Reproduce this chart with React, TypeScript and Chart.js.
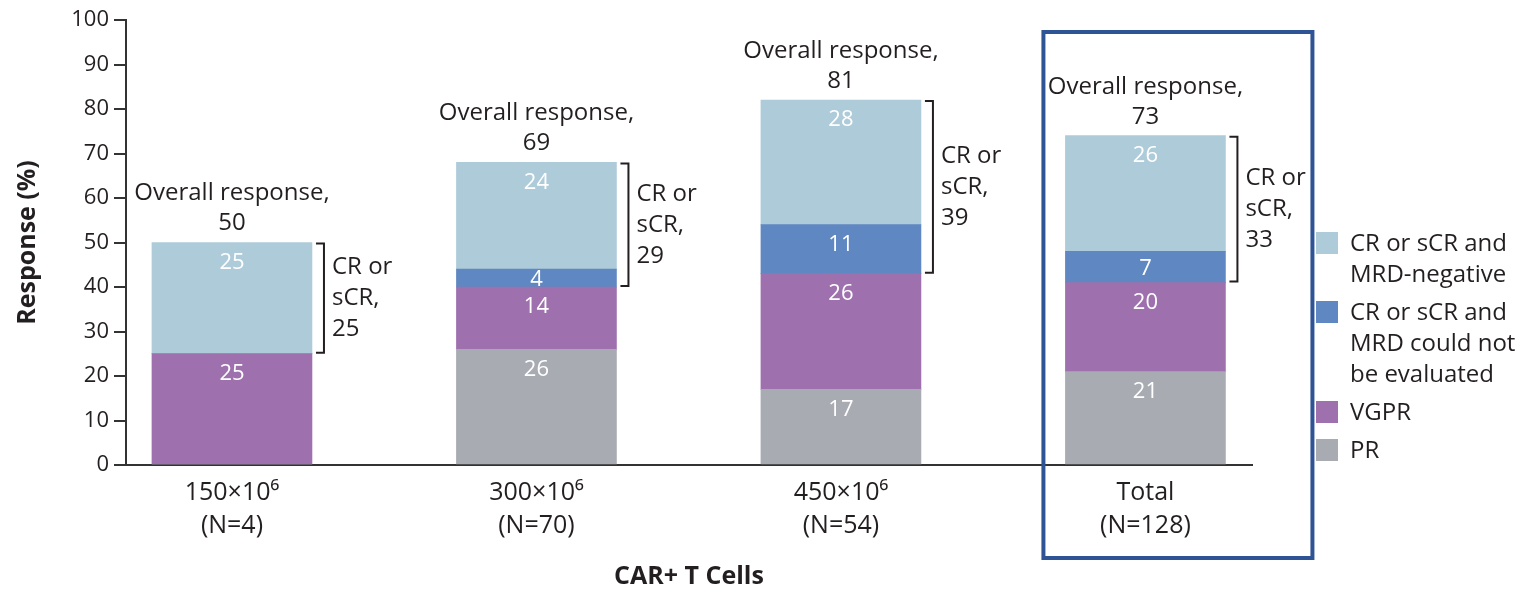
import React, { useEffect, useRef } from "react";
import { Chart, registerables } from "chart.js";

Chart.register(...registerables);

const categories = [["150×10⁶", "(N=4)"], ["300×10⁶", "(N=70)"], ["450×10⁶", "(N=54)"], ["Total", "(N=128)"]];
const xPositions = [0, 1, 2, 3];
const prValues = [0, 26, 17, 21];
const vgprValues = [25, 14, 26, 20];
const crNotEvalValues = [0, 4, 11, 7];
const crMrdNegValues = [25, 24, 28, 26];
const overallResponse = [50, 69, 81, 73];
const crOrScr = [25, 29, 39, 33];
const seriesNames = ["PR", "VGPR", "CR or sCR and MRD could not be evaluated", "CR or sCR and MRD-negative"];
const legendItems = [
  { lines: ["CR or sCR and", "MRD-negative"], idx: 3 },
  { lines: ["CR or sCR and", "MRD could not", "be evaluated"], idx: 2 },
  { lines: ["VGPR"], idx: 1 },
  { lines: ["PR"], idx: 0 },
];
const yTicks = [0, 10, 20, 30, 40, 50, 60, 70, 80, 90, 100];

const COLORS = ["#A8ABB2", "#9E70AE", "#5F87C2", "#AECBDA"];
const FONT = "'Open Sans', 'Noto Sans', sans-serif";
const TEXT = "#231F20";

const annotationPlugin = {
  id: "annotations",
  afterDatasetsDraw(chart: any) {
    const ctx = chart.ctx;
    const xs = chart.scales.x;
    const ys = chart.scales.y;
    const area = chart.chartArea;
    ctx.save();
    // segment labels
    ctx.font = `22px ${FONT}`;
    ctx.fillStyle = "#FFFFFF";
    ctx.textAlign = "center";
    ctx.textBaseline = "middle";
    chart.data.datasets.forEach((ds: any, di: number) => {
      const meta = chart.getDatasetMeta(di);
      meta.data.forEach((el: any, i: number) => {
        const v = ds.data[i].y;
        if (!v) return;
        const top = Math.min(el.y, el.base);
        const bot = Math.max(el.y, el.base);
        const y = Math.min(top + 20, (top + bot) / 2 + 2);
        ctx.fillText(String(v), el.x, y);
      });
    });
    // overall response + brackets
    ctx.font = `24px ${FONT}`;
    ctx.fillStyle = TEXT;
    ctx.strokeStyle = TEXT;
    ctx.lineWidth = 2;
    xPositions.forEach((xv, i) => {
      const cx = xs.getPixelForValue(xv);
      const total = prValues[i] + vgprValues[i] + crNotEvalValues[i] + crMrdNegValues[i];
      const topPx = ys.getPixelForValue(total);
      const crBottomPx = ys.getPixelForValue(prValues[i] + vgprValues[i]);
      ctx.textAlign = "center";
      ctx.fillText(String(overallResponse[i]), cx, topPx - 19);
      ctx.fillText("Overall response,", cx, topPx - 49);
      const bw = 160;
      const bx = cx + bw / 2 + 12;
      ctx.beginPath();
      ctx.moveTo(bx - 8, topPx + 1);
      ctx.lineTo(bx, topPx + 1);
      ctx.lineTo(bx, crBottomPx - 1);
      ctx.lineTo(bx - 8, crBottomPx - 1);
      ctx.stroke();
      const mid = (topPx + crBottomPx) / 2;
      ctx.textAlign = "left";
      ctx.fillText("CR or", bx + 8, mid - 31);
      ctx.fillText("sCR,", bx + 8, mid);
      ctx.fillText(String(crOrScr[i]), bx + 8, mid + 31);
    });
    // highlight box around Total
    const tx = xs.getPixelForValue(3);
    ctx.strokeStyle = "#2F5496";
    ctx.lineWidth = 4;
    ctx.strokeRect(tx - 102, area.top + 12, 269, 526);
    // legend
    ctx.font = `24px ${FONT}`;
    ctx.textAlign = "left";
    ctx.textBaseline = "middle";
    let y = 232;
    const lx = area.right + 64;
    legendItems.forEach((item) => {
      ctx.fillStyle = COLORS[item.idx];
      ctx.fillRect(lx, y, 22, 22);
      ctx.fillStyle = TEXT;
      item.lines.forEach((line, li) => {
        ctx.fillText(line, lx + 34, y + 12 + li * 31);
      });
      y += item.lines.length * 31 + 7;
    });
    ctx.restore();
  },
};

export default function App() {
  const ref = useRef<HTMLCanvasElement | null>(null);
  useEffect(() => {
    if (!ref.current) return;
    const valueSets = [prValues, vgprValues, crNotEvalValues, crMrdNegValues];
    const chart = new Chart(ref.current, {
      type: "bar",
      data: {
        datasets: valueSets.map((vals, di) => ({
          label: seriesNames[di],
          data: vals.map((v, i) => ({ x: xPositions[i], y: v })),
          backgroundColor: COLORS[di],
          borderWidth: 0,
          barThickness: 160,
        })),
      },
      options: {
        responsive: false,
        animation: false,
        layout: { padding: { top: 20, right: 275, left: 0, bottom: 0 } },
        plugins: { legend: { display: false }, tooltip: { enabled: false } },
        scales: {
          x: {
            type: "linear",
            stacked: true,
            offset: false,
            min: -0.348,
            max: 3.35,
            afterBuildTicks: (s: any) => {
              s.ticks = xPositions.map((v) => ({ value: v }));
            },
            afterFit: (s: any) => {
              s.height = 127;
            },
            ticks: {
              autoSkip: false,
              maxRotation: 0,
              padding: 11,
              color: TEXT,
              font: { family: FONT, size: 25, lineHeight: 1.32 },
              callback: (v: any) => categories[Number(v)] ?? "",
            },
            grid: { display: false, drawTicks: false },
            border: { display: true, color: "#333333", width: 2 },
            title: {
              display: true,
              text: "CAR+ T Cells",
              color: TEXT,
              font: { family: FONT, size: 25, weight: "bold" },
              padding: { top: 0, bottom: 0 },
            },
          },
          y: {
            stacked: true,
            min: 0,
            max: 100,
            afterBuildTicks: (s: any) => {
              s.ticks = yTicks.map((v) => ({ value: v }));
            },
            afterFit: (s: any) => {
              s.width = 126;
            },
            ticks: {
              padding: 5,
              color: TEXT,
              font: { family: FONT, size: 22 },
            },
            grid: {
              display: true,
              drawOnChartArea: false,
              drawTicks: true,
              tickLength: 12,
              color: "#333333",
              lineWidth: 2,
            },
            border: { display: true, color: "#333333", width: 2 },
            title: {
              display: true,
              text: "Response (%)",
              color: TEXT,
              font: { family: FONT, size: 25, weight: "bold" },
              padding: { top: 13, bottom: 0 },
            },
          },
        },
      },
      plugins: [annotationPlugin],
    });
    return () => chart.destroy();
  }, []);
  return (
    <div style={{ position: "fixed", left: 0, top: 0, width: 1527, height: 592, background: "#fff" }}>
      <canvas ref={ref} width={1527} height={592} />
    </div>
  );
}
